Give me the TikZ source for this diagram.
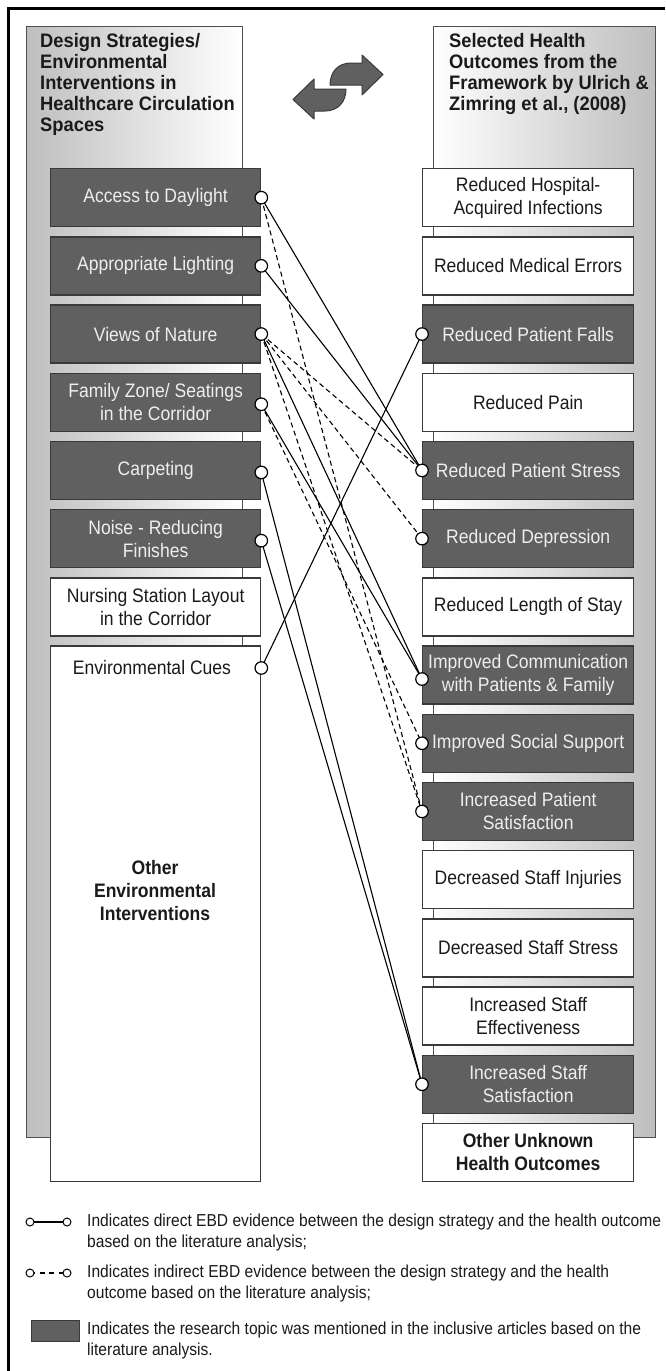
\documentclass[tikz,border=0pt]{standalone}
\usepackage{fontspec}
\setmainfont[FakeStretch=0.9]{Liberation Sans}
\newfontfamily\hdfamily[FakeStretch=0.94]{Liberation Sans}
\definecolor{boxdark}{HTML}{606060}
\definecolor{boxline}{HTML}{3A3A3A}
\definecolor{boxtext}{HTML}{EEEEEE}
\definecolor{panelgray}{HTML}{BEBEBE}
\definecolor{panelline}{HTML}{505050}
\definecolor{ink}{HTML}{1A1A1A}
\newcommand\bxfont{\fontsize{19.5}{23}\selectfont}
\newcommand\hdfont{\hdfamily\fontsize{19.5}{21}\selectfont\bfseries}
\newcommand\otfont{\fontsize{19.5}{23}\selectfont\bfseries}
\newcommand\lgfont{\fontsize{17.3}{21}\selectfont}
\tikzset{
  dbox/.style={draw=boxline, fill=boxdark, text=boxtext, line width=1.3,
    minimum height=58, inner sep=2, align=center, font=\bxfont, anchor=north west},
  wbox/.style={dbox, fill=white, text=ink},
  lbox/.style={minimum width=210},
  rbox/.style={minimum width=211},
  dot/.style={circle, draw=black, fill=white, line width=1.2, minimum size=12.5, inner sep=0},
  ldot/.style={circle, draw=black, fill=white, line width=1, minimum size=8, inner sep=0},
  direct/.style={draw=black, line width=1.1},
  indirect/.style={draw=black, line width=1.1, dash pattern=on 5 off 3.5},
  lgtext/.style={anchor=north west, inner sep=0, align=left, font=\lgfont, text=ink},
  hdtext/.style={anchor=north west, inner sep=0, align=left, font=\hdfont, text=ink},
  arrowshape/.style={fill=boxdark, draw=boxline, line width=1, line join=round}
}
\begin{document}
\begin{tikzpicture}[x=1pt,y=-1pt]
\useasboundingbox (0,0) rectangle (665,1371);
\fill[white] (0,0) rectangle (665,1371);
% outer frame
\draw[line width=3] (8,1371) -- (8,8) -- (665,8);
% panels
\shadedraw[left color=panelgray, right color=white, draw=panelline, line width=1] (26,26) rectangle (242,1137);
\shadedraw[left color=white, right color=panelgray, draw=panelline, line width=1] (433,26) rectangle (655,1137);
% headers
\node[hdtext] (hL) at (40,33) {Design Strategies/\\Environmental\\Interventions in\\Healthcare Circulation\\Spaces};
\node[hdtext] (hR) at (449,33) {Selected Health\\Outcomes from the\\Framework by Ulrich \&\\Zimring et al., (2008)};
% exchange arrows
\filldraw[arrowshape] (362,63) -- (362,55) -- (383,74.5) -- (362,95) -- (362,85) -- (330,85)
  .. controls (330,72) and (338,63) .. (351,63) -- cycle;
\filldraw[arrowshape, rotate around={180:(338,87)}] (362,63) -- (362,55) -- (383,74.5) -- (362,95) -- (362,85) -- (330,85)
  .. controls (330,72) and (338,63) .. (351,63) -- cycle;
% left boxes
\node[dbox, lbox] (L1) at (50,168) {Access to Daylight};
\node[dbox, lbox] (L2) at (50,236.2) {Appropriate Lighting};
\node[dbox, lbox] (L3) at (50,304.4) {Views of Nature};
\node[dbox, lbox] (L4) at (50,372.6) {Family Zone/ Seatings\\in the Corridor};
\node[dbox, lbox] (L5) at (50,440.8) {Carpeting};
\node[dbox, lbox] (L6) at (50,509) {Noise - Reducing\\Finishes};
\node[wbox, lbox] (L7) at (50,577.2) {Nursing Station Layout\\in the Corridor};
\node[wbox, lbox, minimum height=535.6] (L8) at (50,645.4) {};
\node[font=\bxfont, text=ink, inner sep=0] (L8a) at (152,668) {Environmental Cues};
\node[font=\otfont, text=ink, inner sep=0, align=center] (L8b) at (155,891) {Other\\Environmental\\Interventions};
% right boxes
\node[wbox, rbox] (B1) at (422,168) {Reduced Hospital-\\Acquired Infections};
\node[wbox, rbox] (B2) at (422,236.2) {Reduced Medical Errors};
\node[dbox, rbox] (B3) at (422,304.4) {Reduced Patient Falls};
\node[wbox, rbox] (B4) at (422,372.6) {Reduced Pain};
\node[dbox, rbox] (B5) at (422,440.8) {Reduced Patient Stress};
\node[dbox, rbox] (B6) at (422,509) {Reduced Depression};
\node[wbox, rbox] (B7) at (422,577.2) {Reduced Length of Stay};
\node[dbox, rbox] (B8) at (422,645.4) {Improved Communication\\with Patients \& Family};
\node[dbox, rbox] (B9) at (422,713.6) {Improved Social Support};
\node[dbox, rbox] (B10) at (422,781.8) {Increased Patient\\Satisfaction};
\node[wbox, rbox] (B11) at (422,850) {Decreased Staff Injuries};
\node[wbox, rbox] (B12) at (422,918.2) {Decreased Staff Stress};
\node[wbox, rbox] (B13) at (422,986.4) {Increased Staff\\Effectiveness};
\node[dbox, rbox] (B14) at (422,1054.6) {Increased Staff\\Satisfaction};
\node[wbox, rbox, font=\otfont] (B15) at (422,1122.8) {Other Unknown\\Health Outcomes};
% connection points
\coordinate (p1) at (L1.east);
\coordinate (p2) at (L2.east);
\coordinate (p3) at (L3.east);
\coordinate (p4) at ([yshift=-2pt]L4.east);
\coordinate (p5) at ([yshift=-2pt]L5.east);
\coordinate (p6) at ([yshift=-2pt]L6.east);
\coordinate (p8) at ([yshift=-22.6pt]L8.north east);
\coordinate (q3) at (B3.west);
\coordinate (q5) at (B5.west);
\coordinate (q6) at (B6.west);
\coordinate (q8) at ([yshift=-4pt]B8.west);
\coordinate (q9) at (B9.west);
\coordinate (q10) at (B10.west);
\coordinate (q14) at (B14.west);
% connectors
\draw[direct] (p1) -- (q5);
\draw[direct] (p2) -- (q5);
\draw[indirect] (p1) -- (q10);
\draw[indirect] (p3) -- (q5);
\draw[indirect] (p3) -- (q6);
\draw[direct] (p3) -- (q8);
\draw[indirect] (p3) -- (q10);
\draw[direct] (p4) -- (q8);
\draw[indirect] (p4) -- (q9);
\draw[direct] (p5) -- (q14);
\draw[direct] (p6) -- (q14);
\draw[direct] (p8) -- (q3);
% circles
\foreach \c in {p1,p2,p3,p4,p5,p6,p8,q3,q5,q6,q8,q9,q10,q14} \node[dot] at (\c) {};
% legend
\coordinate (la1) at (30,1222); \coordinate (lb1) at (67,1222);
\draw[direct] (la1) -- (lb1);
\node[ldot] at (la1) {}; \node[ldot] at (lb1) {};
\node[lgtext] (T1) at (87,1214) {Indicates direct EBD evidence between the design strategy and the health outcome\\based on the literature analysis;};
\coordinate (la2) at (30,1273); \coordinate (lb2) at (67,1273);
\draw[draw=black, line width=1.1, dash pattern=on 5 off 4.5] (la2) -- (lb2);
\node[ldot] at (la2) {}; \node[ldot] at (lb2) {};
\node[lgtext] (T2) at (87,1265) {Indicates indirect EBD evidence between the design strategy and the health\\outcome based on the literature analysis;};
\node[dbox, minimum width=48, minimum height=21, inner sep=0] (LG) at (31,1320) {};
\node[lgtext] (T3) at (87,1322) {Indicates the research topic was mentioned in the inclusive articles based on the\\literature analysis.};
\end{tikzpicture}
\end{document}
